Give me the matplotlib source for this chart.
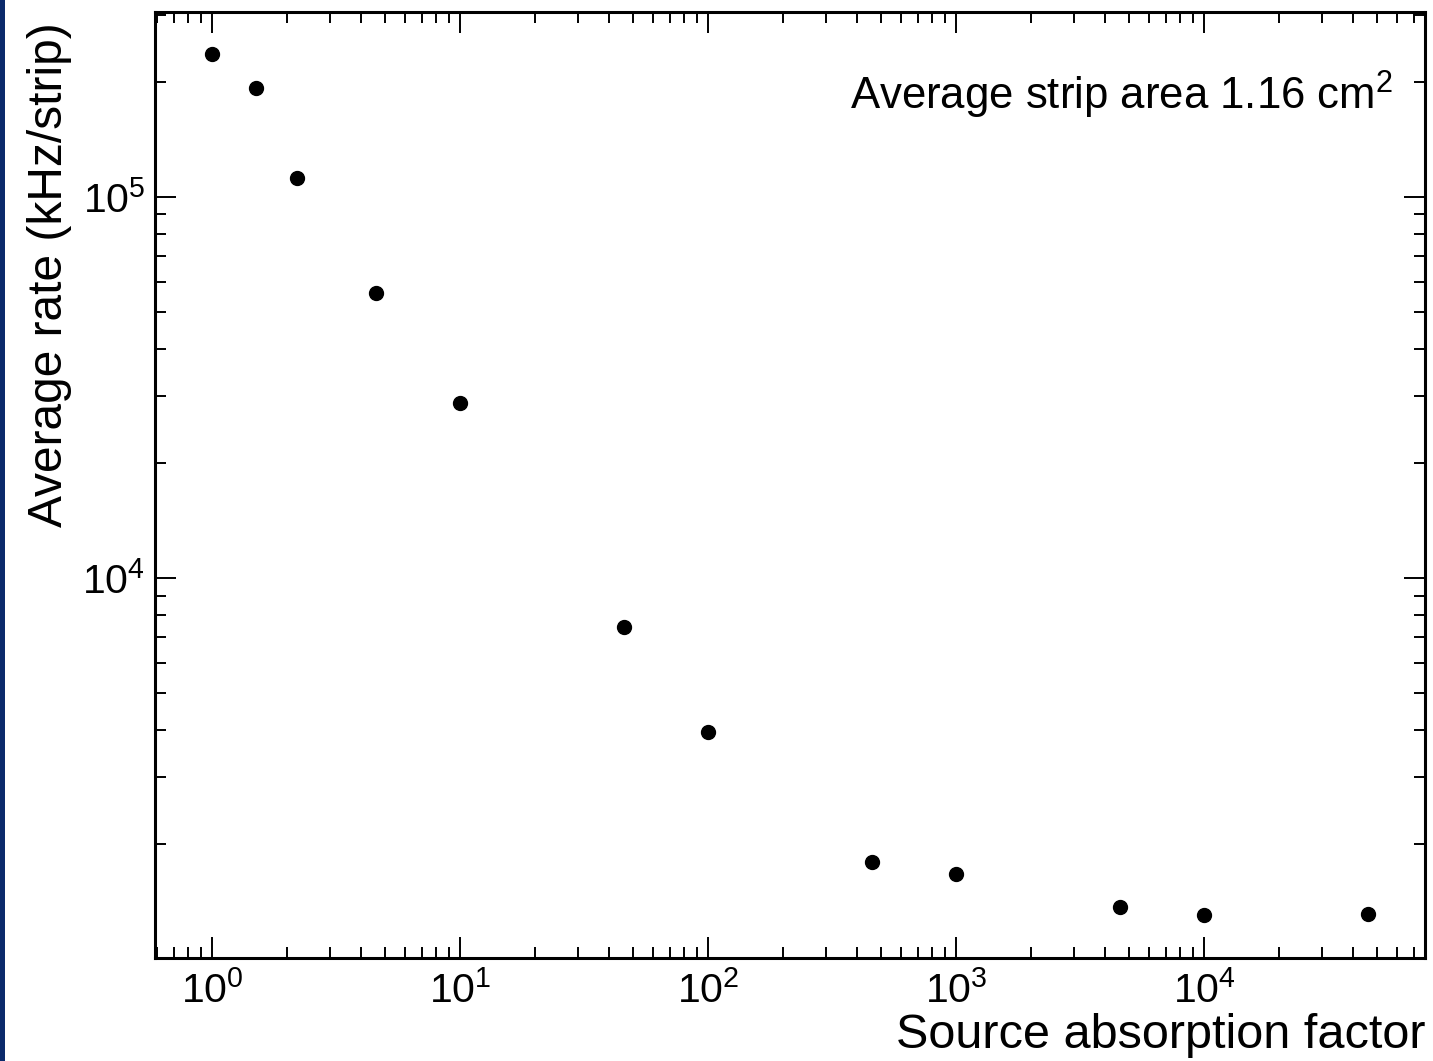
import matplotlib
matplotlib.use("Agg")
import matplotlib.pyplot as plt
from matplotlib.patches import Rectangle
from matplotlib.ticker import LogLocator, LogFormatterSciNotation, NullFormatter

# Data
absorption = [1.0, 1.5, 2.2, 4.6, 10, 46, 100, 460, 1000, 4600, 10000, 46000]
rate_khz = [237000, 193000, 112000, 56000, 28800, 7440, 3950, 1800, 1672, 1370, 1305, 1312]
xlabel = "Source absorption factor"
ylabel = "Average rate (kHz/strip)"
note = r"Average strip area 1.16 cm$^{2}$"

plt.rcParams['font.family'] = ['Liberation Sans', 'DejaVu Sans']
plt.rcParams['mathtext.fontset'] = 'custom'
plt.rcParams['mathtext.rm'] = 'Liberation Sans'
plt.rcParams['mathtext.it'] = 'Liberation Sans'
plt.rcParams['mathtext.bf'] = 'Liberation Sans'

W, H = 1433, 1061
fig = plt.figure(figsize=(W / 100, H / 100), dpi=100)
fig.patch.set_facecolor('white')
fig.patches.append(Rectangle((0, 0), 5 / W, 1, transform=fig.transFigure,
                             facecolor='#0b2a6b', edgecolor='none', zorder=10))

left, right, top, bottom = 155, 1425, 12, 958
ax = fig.add_axes([left / W, (H - bottom) / H, (right - left) / W, (bottom - top) / H])

ax.plot(absorption, rate_khz, 'o', color='black', markersize=10, linestyle='none')
ax.set_xscale('log')
ax.set_yscale('log')
ax.set_xlim(0.589, 77800)
ax.set_ylim(1007, 305900)

for s in ax.spines.values():
    s.set_linewidth(2.2)

ax.xaxis.set_major_locator(LogLocator(base=10, numticks=20))
ax.xaxis.set_minor_locator(LogLocator(base=10, subs=range(2, 10), numticks=100))
ax.yaxis.set_major_locator(LogLocator(base=10, numticks=20))
ax.yaxis.set_minor_locator(LogLocator(base=10, subs=range(2, 10), numticks=100))
ax.xaxis.set_major_formatter(LogFormatterSciNotation())
ax.yaxis.set_major_formatter(LogFormatterSciNotation())
ax.xaxis.set_minor_formatter(NullFormatter())
ax.yaxis.set_minor_formatter(NullFormatter())

ax.tick_params(which='both', direction='in', top=True, right=True, width=1.4)
ax.tick_params(which='major', length=15, labelsize=29.5)
ax.tick_params(axis='x', which='major', pad=9)
ax.tick_params(axis='y', which='major', pad=7)
ax.tick_params(which='minor', length=8)

ax.set_xlabel(xlabel, fontsize=35, ha='right', va='center')
ax.xaxis.set_label_coords(1.0, (bottom - 1035) / (bottom - top))
ax.set_ylabel(ylabel, fontsize=34.5, ha='center', va='center')
ax.yaxis.set_label_coords((50 - left) / (right - left), (bottom - 275) / (bottom - top))

ax.text((1393 - left) / (right - left), (bottom - 95) / (bottom - top), note,
        transform=ax.transAxes, ha='right', va='center', fontsize=31.5)

fig.savefig("out.png", dpi=100)
